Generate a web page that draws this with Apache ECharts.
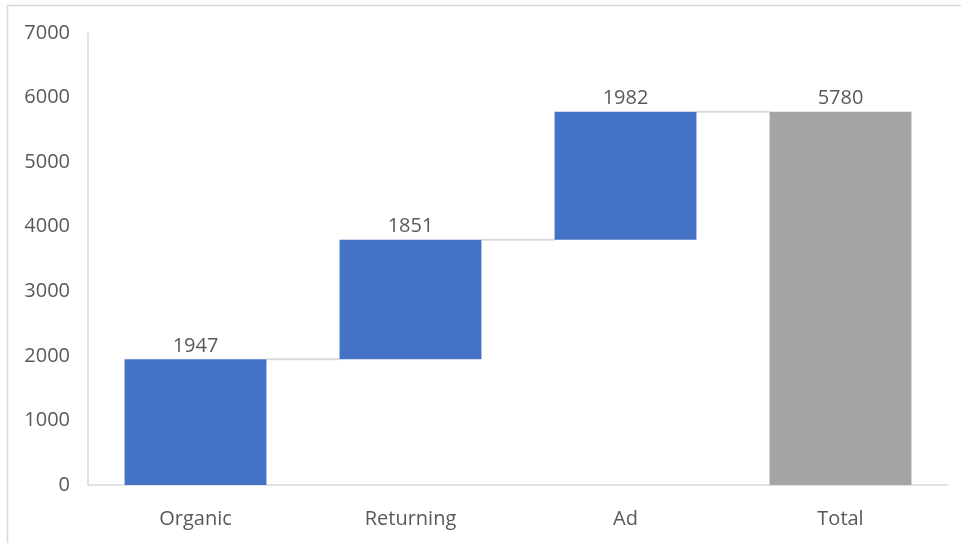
<!DOCTYPE html>
<html><head><meta charset="utf-8">
<script src="https://cdn.jsdelivr.net/npm/echarts@6/dist/echarts.min.js"></script>
<style>html,body{margin:0;padding:0;background:#fff}#c{width:961px;height:543px}</style>
</head><body><div id="c"></div>
<script>
const categories = ['Organic', 'Returning', 'Ad', 'Total'];
const values = [1947, 1851, 1982, 5780];
const isTotal = [false, false, false, true];
const yTicks = [0, 1000, 2000, 3000, 4000, 5000, 6000, 7000];

const bases = [];
let run = 0;
for (let i = 0; i < values.length; i++) {
  if (isTotal[i]) { bases.push(0); run = values[i]; }
  else { bases.push(run); run += values[i]; }
}
const tops = values.map((v, i) => bases[i] + v);
const connectors = [];
for (let i = 0; i < values.length - 1; i++) connectors.push([i, tops[i]]);

const chart = echarts.init(document.getElementById('c'));
const font = 'Open Sans';
chart.setOption({
  animation: false,
  graphic: [{ type: 'rect', shape: { x: 7.5, y: 5.5, width: 1000, height: 600 }, style: { fill: 'none', stroke: '#d9d9d9', lineWidth: 1.5 }, silent: true }],
  grid: { left: 88, right: 13, top: 33, bottom: 58 },
  xAxis: {
    type: 'category', data: categories,
    axisLine: { lineStyle: { color: '#d9d9d9', width: 1.5 } },
    axisTick: { show: false },
    axisLabel: { color: '#595959', fontSize: 20, fontFamily: font, margin: 24 }
  },
  yAxis: {
    type: 'value', min: yTicks[0], max: yTicks[yTicks.length - 1], interval: 1000,
    axisLine: { show: true, lineStyle: { color: '#d9d9d9', width: 1.5 } },
    splitLine: { show: false },
    axisLabel: { color: '#595959', fontSize: 20, fontFamily: font, margin: 18, formatter: function (v) { return String(v); } }
  },
  series: [
    { type: 'bar', stack: 'w', data: bases, barWidth: '66%', itemStyle: { color: 'transparent' }, silent: true },
    { type: 'bar', stack: 'w', data: values.map((v, i) => ({ value: v, itemStyle: { color: isTotal[i] ? '#a5a5a5' : '#4472c4' } })),
      label: { show: true, position: 'top', color: '#595959', fontSize: 20, fontFamily: font, distance: 3 } },
    { type: 'custom', data: connectors, silent: true, z: 1,
      renderItem: function (params, api) {
        const i = api.value(0), v = api.value(1);
        const p0 = api.coord([i, v]), p1 = api.coord([i + 1, v]);
        const half = api.size([1, 0])[0] * 0.33;
        return { type: 'line', shape: { x1: p0[0] + half, y1: p0[1], x2: p1[0] - half, y2: p1[1] }, style: { stroke: '#d9d9d9', lineWidth: 2 } };
      } }
  ]
});
</script></body></html>
